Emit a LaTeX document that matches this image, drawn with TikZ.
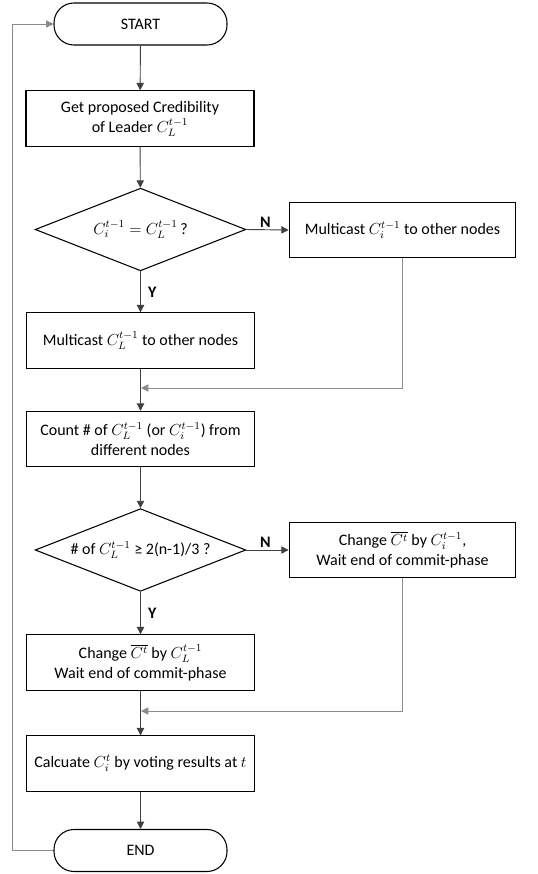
\documentclass[tikz,border=0pt]{standalone}
\usepackage{fontspec}
\setmainfont{Carlito}
\usetikzlibrary{shapes.geometric,arrows.meta}
\begin{document}
\begin{tikzpicture}[x=0.75pt,y=-0.75pt,
  every node/.style={font=\fontsize{12}{15}\selectfont, text=black},
  proc/.style={draw=black, line width=0.8pt, rectangle, inner sep=0pt, align=center, minimum width=171pt, minimum height=41.5pt},
  rproc/.style={proc, minimum width=170pt},
  term/.style={draw=black, line width=0.8pt, rectangle, rounded corners=15pt, inner sep=0pt, minimum width=129.75pt, minimum height=31.5pt},
  dec/.style={draw=black, line width=0.8pt, diamond, inner sep=0pt, aspect=2.5, minimum width=158pt, minimum height=62pt, align=center},
  flow/.style={draw=black!75, line width=0.7pt, -{Triangle[length=5.5pt,width=5.5pt]}},
  back/.style={draw=black!45, line width=0.7pt, -{Triangle[length=5.5pt,width=5.5pt]}},
  lbl/.style={font=\fontsize{12}{15}\selectfont\bfseries}
]
\useasboundingbox (0,0) rectangle (538,874);

\node[term] (start) at (140.5,24) {START};
\node[proc] (b1) at (140,118.5) {Get proposed Credibility\\of Leader $C_L^{t-1}$};
\node[dec] (d1) at (140.5,229.5) {$C_i^{t-1} = C_L^{t-1}$\,?};
\node[rproc] (r1) at (402.5,230) {Multicast $C_i^{t-1}$ to other nodes};
\node[proc] (b2) at (140.5,340.5) {Multicast $C_L^{t-1}$ to other nodes};
\node[proc] (b3) at (140.5,439) {Count \# of $C_L^{t-1}$ (or $C_i^{t-1}$) from\\different nodes};
\node[dec] (d2) at (140.5,550) {\# of $C_L^{t-1}$ ≥ 2(n-1)/3 ?};
\node[rproc] (r2) at (402.5,550) {Change $\overline{C^t}$ by $C_i^{t-1}$,\\Wait end of commit-phase};
\node[proc] (b4) at (140.5,662.5) {Change $\overline{C^t}$ by $C_L^{t-1}$\\Wait end of commit-phase};
\node[proc] (b5) at (140.5,763.5) {Calcuate $C_i^t$ by voting results at $t$};
\node[term] (end) at (140.5,850.5) {END};

\coordinate (m1) at (141,388);
\coordinate (m2) at (141,711);
\coordinate (lb) at (12,850.5);
\coordinate (lt) at (12,24);

\draw[flow] (start) -- (b1);
\draw[flow] (b1) -- (d1);
\draw[flow] (d1.east) -- node[lbl, above, pos=0.45, yshift=-2pt] (n1) {N} (r1.west);
\draw[flow] (d1.south) -- node[lbl, right, pos=0.5, xshift=2pt] (y1) {Y} (b2.north);
\draw[flow] (b2) -- (b3);
\draw[back] (r1.south) |- (m1);
\draw[flow] (b3) -- (d2);
\draw[flow] (d2.east) -- node[lbl, above, pos=0.45, yshift=-2pt] (n2) {N} (r2.west);
\draw[flow] (d2.south) -- node[lbl, right, pos=0.5, xshift=2pt] (y2) {Y} (b4.north);
\draw[flow] (b4) -- (b5);
\draw[back] (r2.south) |- (m2);
\draw[flow] (b5) -- (end);
\draw[back] (end.west) -- (lb) -- (lt) -- (start.west);
\end{tikzpicture}
\end{document}
